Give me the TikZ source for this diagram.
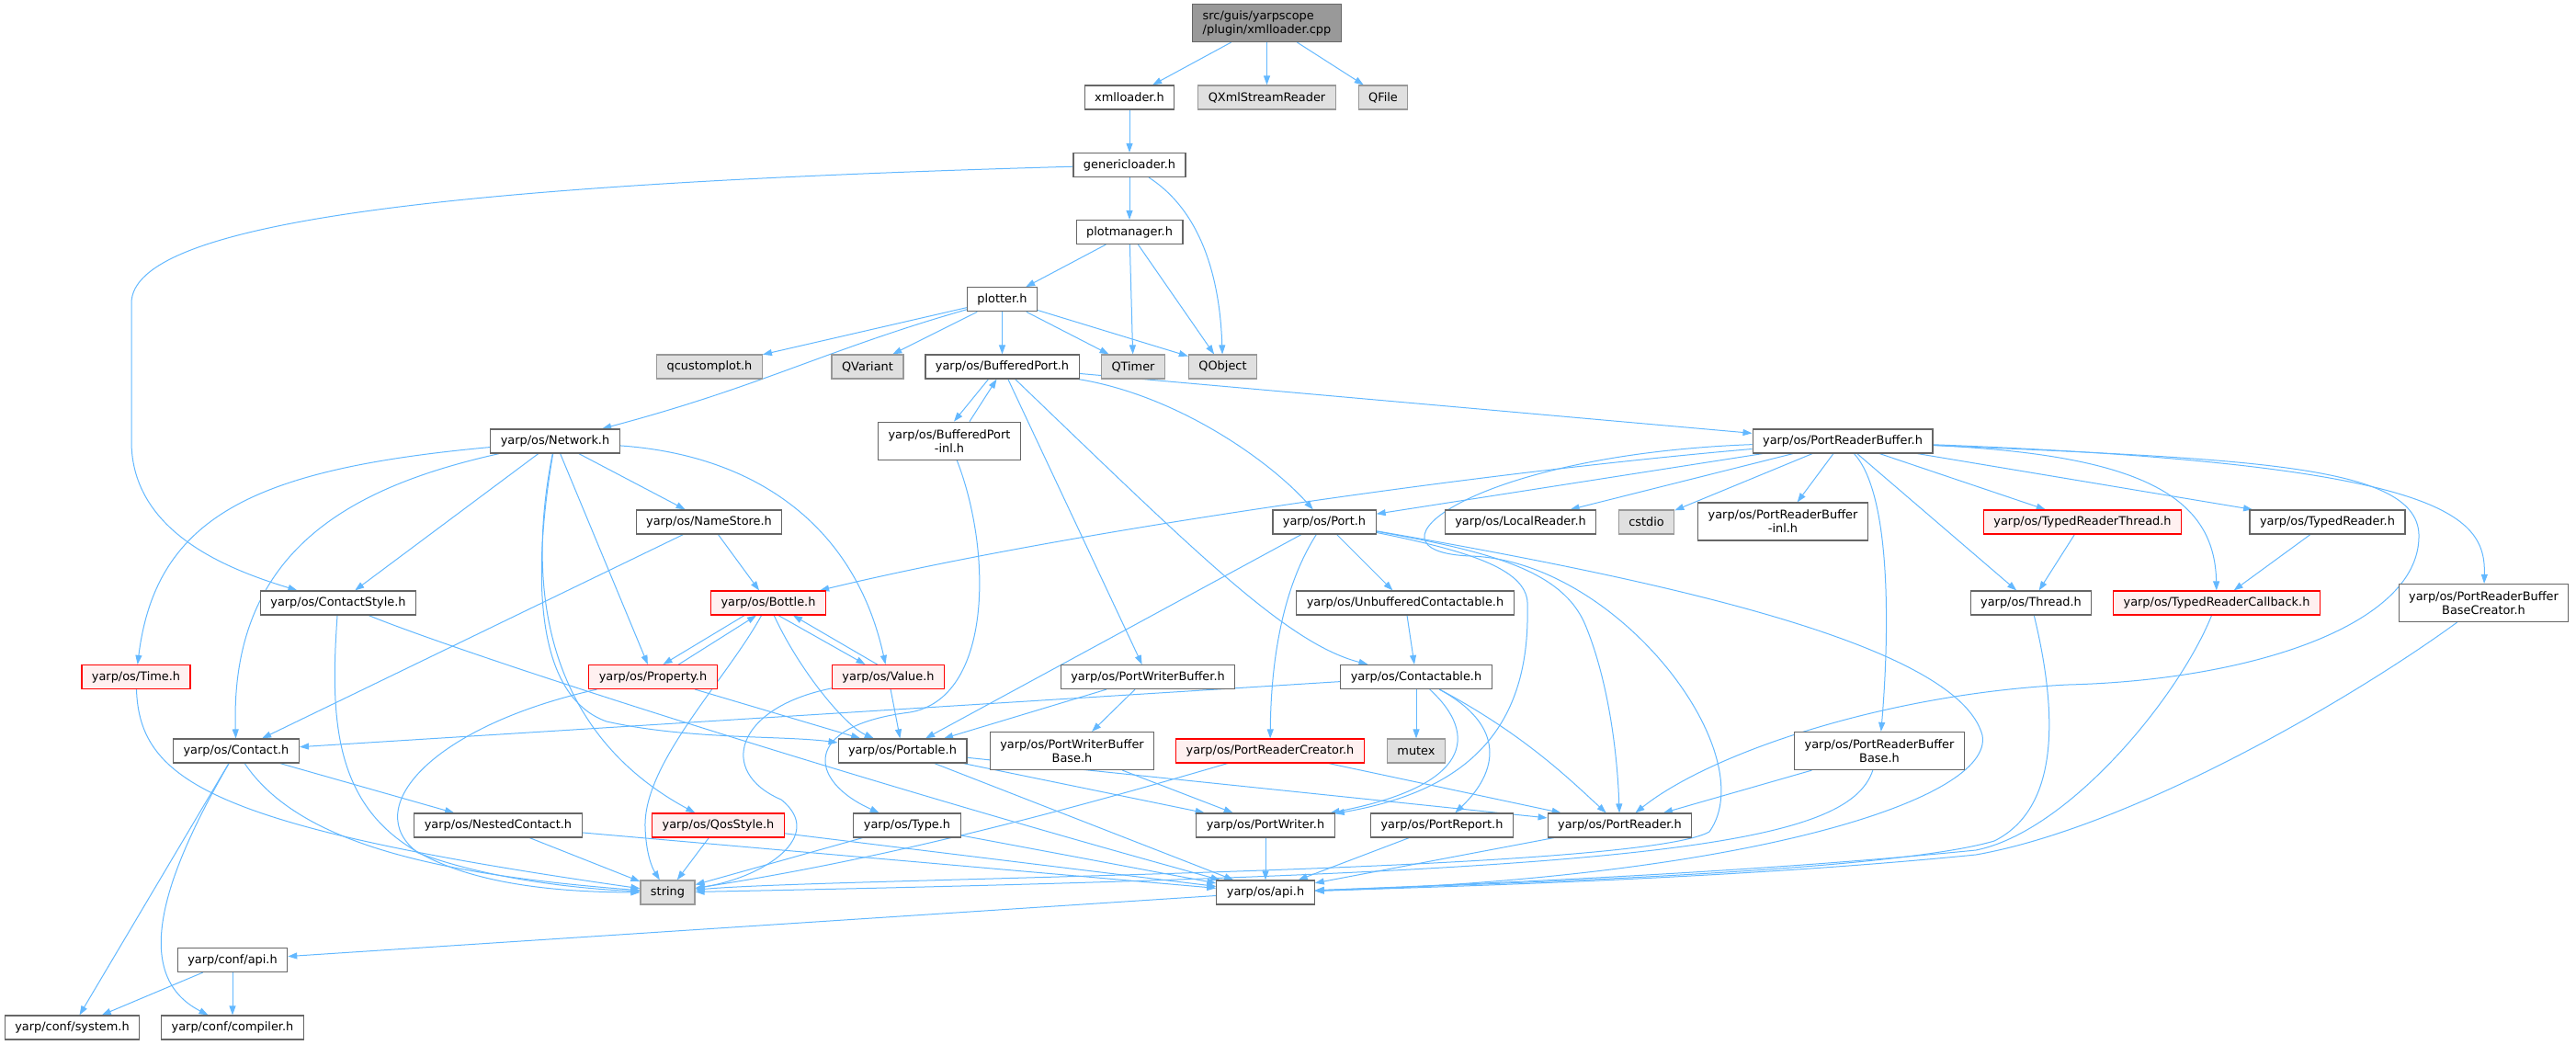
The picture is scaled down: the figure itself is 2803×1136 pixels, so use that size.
\documentclass[tikz,border=0pt]{standalone}
\usepackage{fontspec}
\setmainfont{DejaVu Sans}
\usetikzlibrary{arrows.meta,backgrounds}
\definecolor{edgeblue}{HTML}{63B8FF}
\definecolor{boxgray}{HTML}{666666}
\definecolor{extgray}{HTML}{999999}
\definecolor{extfill}{HTML}{E0E0E0}
\definecolor{truncfill}{HTML}{FFF0F0}
\tikzset{
    incl/.style={draw=boxgray, fill=white, line width=1.2pt, inner xsep=11pt, inner ysep=2pt,
        minimum height=26pt, font=\fontsize{12.9}{15}\selectfont},
    ext/.style={incl, draw=extgray, fill=extfill},
    trunc/.style={incl, draw=red, fill=truncfill},
    root/.style={incl, draw=boxgray, fill=extgray, align=left, minimum height=41pt},
    twoline/.style={align=center, minimum height=41pt},
    dep/.style={draw=edgeblue, line width=1pt, -{Triangle[length=10pt,width=7pt]}}
}

\begin{document}
\begin{tikzpicture}[x=1pt, y=-1pt]
    \useasboundingbox (0,0) rectangle (2803,1136);
    \node[root] (src) at (1378.5,25) {src/guis/yarpscope\\/plugin/xmlloader.cpp};
    \node[incl] (xml) at (1229,106) {xmlloader.h};
    \node[ext] (qxml) at (1378.5,106) {QXmlStreamReader};
    \node[ext] (qfile) at (1505,106) {QFile};
    \node[incl] (gen) at (1229,179.5) {genericloader.h};
    \node[incl] (pm) at (1229,252.5) {plotmanager.h};
    \node[incl] (plt) at (1090.5,325.8) {plotter.h};
    \node[ext] (qcp) at (772,399) {qcustomplot.h};
    \node[ext] (qvar) at (944,399) {QVariant};
    \node[incl] (bp) at (1090.5,399) {yarp/os/BufferedPort.h};
    \node[ext] (qtim) at (1233,399) {QTimer};
    \node[ext] (qobj) at (1330.5,399) {QObject};
    \node[incl, twoline] (bpinl) at (1033,479.7) {yarp/os/BufferedPort\\-inl.h};
    \node[incl] (net) at (604,480) {yarp/os/Network.h};
    \node[incl] (prb) at (2005,480) {yarp/os/PortReaderBuffer.h};
    \node[incl] (ns) at (771.5,568) {yarp/os/NameStore.h};
    \node[incl] (port) at (1441,568) {yarp/os/Port.h};
    \node[incl] (lr) at (1654.5,568) {yarp/os/LocalReader.h};
    \node[ext] (cstd) at (1791.5,568) {cstdio};
    \node[incl, twoline] (prbinl) at (1940,567.5) {yarp/os/PortReaderBuffer\\-inl.h};
    \node[trunc] (trt) at (2266,568) {yarp/os/TypedReaderThread.h};
    \node[incl] (tr) at (2532.5,568) {yarp/os/TypedReader.h};
    \node[incl] (cs) at (368,656) {yarp/os/ContactStyle.h};
    \node[trunc] (bot) at (836,656) {yarp/os/Bottle.h};
    \node[incl] (uc) at (1529,656) {yarp/os/UnbufferedContactable.h};
    \node[incl] (thr) at (2210,656) {yarp/os/Thread.h};
    \node[trunc] (trc) at (2412,656) {yarp/os/TypedReaderCallback.h};
    \node[incl, twoline] (prbbc) at (2702.5,656) {yarp/os/PortReaderBuffer\\BaseCreator.h};
    \node[trunc] (time) at (148,736.5) {yarp/os/Time.h};
    \node[trunc] (prop) at (710.5,736.5) {yarp/os/Property.h};
    \node[trunc] (val) at (966.5,736.5) {yarp/os/Value.h};
    \node[incl] (pwb) at (1249,736.5) {yarp/os/PortWriterBuffer.h};
    \node[incl] (ctb) at (1541,736.5) {yarp/os/Contactable.h};
    \node[incl] (con) at (257,817) {yarp/os/Contact.h};
    \node[incl] (ptb) at (982,817) {yarp/os/Portable.h};
    \node[incl, twoline] (pwbb) at (1166.5,817) {yarp/os/PortWriterBuffer\\Base.h};
    \node[trunc] (prc) at (1382,817) {yarp/os/PortReaderCreator.h};
    \node[ext] (mtx) at (1541,817) {mutex};
    \node[incl, twoline] (prbb) at (2045,817) {yarp/os/PortReaderBuffer\\Base.h};
    \node[incl] (nc) at (542,898) {yarp/os/NestedContact.h};
    \node[trunc] (qos) at (781.5,898) {yarp/os/QosStyle.h};
    \node[incl] (typ) at (987,898) {yarp/os/Type.h};
    \node[incl] (pw) at (1377,898) {yarp/os/PortWriter.h};
    \node[incl] (prep) at (1569,898) {yarp/os/PortReport.h};
    \node[incl] (pr) at (1762.5,898) {yarp/os/PortReader.h};
    \node[ext] (str) at (726.5,971) {string};
    \node[incl] (api) at (1377,971) {yarp/os/api.h};
    \node[incl] (capi) at (253,1044.5) {yarp/conf/api.h};
    \node[incl] (csys) at (78.5,1118) {yarp/conf/system.h};
    \node[incl] (ccomp) at (253,1118) {yarp/conf/compiler.h};

    \begin{pgfonlayer}{background}
    \draw[dep] (src) -- (xml);
    \draw[dep] (src) -- (qxml);
    \draw[dep] (src) -- (qfile);
    \draw[dep] (xml) -- (gen);
    \draw[dep] (gen) .. controls (500,200) and (143,240) .. (143,330) -- (143,480)
        .. controls (143,580) and (250,620) .. (cs);
    \draw[dep] (gen) -- (pm);
    \draw[dep] (gen) .. controls (1315,235) and (1328,320) .. (qobj);
    \draw[dep] (pm) -- (plt);
    \draw[dep] (pm) -- (qtim);
    \draw[dep] (pm) -- (qobj);
    \draw[dep] (plt) -- (qcp);
    \draw[dep] (plt) .. controls (900,380) and (830,420) .. (net);
    \draw[dep] (plt) -- (qvar);
    \draw[dep] (plt) -- (bp);
    \draw[dep] (plt) -- (qtim);
    \draw[dep] (plt) -- (qobj);
    \draw[dep] ([xshift=-15pt]bp.south) -- ([xshift=5pt]bpinl.north);
    \draw[dep] ([xshift=22pt]bpinl.north) -- ([xshift=-6pt]bp.south);
    \draw[dep] (bp) -- (prb);
    \draw[dep] (bp) .. controls (1280,430) and (1380,500) .. (port);
    \draw[dep] (bp) -- (pwb);
    \draw[dep] (bp) .. controls (1300,600) and (1400,700) .. (ctb);
    \draw[dep] (bpinl) .. controls (1080,600) and (1080,760) .. (990,775)
        .. controls (870,790) and (880,850) .. (typ);
    \draw[dep] (net) .. controls (280,510) and (170,560) .. (time);
    \draw[dep] (net) .. controls (380,530) and (250,600) .. (con);
    \draw[dep] (net) -- (cs);
    \draw[dep] (net) -- (ns);
    \draw[dep] (net) -- (prop);
    \draw[dep] (net) .. controls (820,495) and (930,570) .. (val);
    \draw[dep] (net) .. controls (570,650) and (600,800) .. (qos);
    \draw[dep] (net) .. controls (575,650) and (590,760) .. (660,785)
        .. controls (750,805) and (850,800) .. (ptb);
    \draw[dep] (ns) -- (bot);
    \draw[dep] (ns) -- (con);
    \draw[dep] (prb) .. controls (1600,515) and (1150,580) .. (bot);
    \draw[dep] (prb) -- (port);
    \draw[dep] (prb) .. controls (1600,495) and (1470,600) .. (1600,605)
        .. controls (1760,610) and (1920,820) .. (1860,905)
        .. controls (1780,950) and (900,955) .. (str);
    \draw[dep] (prb) -- (lr);
    \draw[dep] (prb) -- (cstd);
    \draw[dep] (prb) -- (prbinl);
    \draw[dep] (prb) .. controls (2060,540) and (2055,700) .. (prbb);
    \draw[dep] (prb) -- (thr);
    \draw[dep] (prb) -- (trt);
    \draw[dep] (prb) -- (tr);
    \draw[dep] (prb) .. controls (2330,495) and (2410,540) .. (trc);
    \draw[dep] (prb) .. controls (2660,505) and (2705,560) .. (prbbc);
    \draw[dep] (prb) .. controls (2450,500) and (2635,505) .. (2632,585)
        .. controls (2630,680) and (2450,740) .. (2250,745)
        .. controls (2050,755) and (1860,820) .. (pr);
    \draw[dep] (trt) -- (thr);
    \draw[dep] (tr) -- (trc);
    \draw[dep] (port) -- (ptb);
    \draw[dep] (port) .. controls (1395,640) and (1383,720) .. (prc);
    \draw[dep] (port) -- (uc);
    \draw[dep] (port) .. controls (1600,600) and (1665,620) .. (1662,660)
        .. controls (1665,790) and (1600,860) .. (pw);
    \draw[dep] (port) .. controls (1620,600) and (1700,620) .. (1725,680)
        .. controls (1750,740) and (1760,820) .. (pr);
    \draw[dep] (port) .. controls (1800,630) and (2130,700) .. (2157,800)
        .. controls (2170,870) and (1900,955) .. (api);
    \draw[dep] (uc) -- (ctb);
    \draw[dep] (ctb) -- (con);
    \draw[dep] (ctb) -- (mtx);
    \draw[dep] (ctb) .. controls (1610,800) and (1600,855) .. (pw);
    \draw[dep] (ctb) .. controls (1640,790) and (1630,840) .. (prep);
    \draw[dep] (ctb) .. controls (1660,800) and (1710,850) .. (pr);
    \draw[dep] ([xshift=-26pt]bot.south) -- ([xshift=11pt]prop.north);
    \draw[dep] ([xshift=28pt]prop.north) -- ([xshift=-13pt]bot.south);
    \draw[dep] ([xshift=11pt]bot.south) -- ([xshift=-25pt]val.north);
    \draw[dep] ([xshift=-12pt]val.north) -- ([xshift=27pt]bot.south);
    \draw[dep] (bot) .. controls (870,730) and (920,790) .. (ptb);
    \draw[dep] (bot) .. controls (790,740) and (700,830) .. (702,900)
        .. controls (703,930) and (710,945) .. (str);
    \draw[dep] (prop) -- (ptb);
    \draw[dep] (prop) .. controls (470,790) and (390,880) .. (455,928)
        .. controls (540,960) and (650,968) .. (str);
    \draw[dep] (val) -- (ptb);
    \draw[dep] (val) .. controls (800,770) and (780,840) .. (850,870)
        .. controls (900,910) and (830,955) .. (str);
    \draw[dep] (pwb) -- (ptb);
    \draw[dep] (pwb) -- (pwbb);
    \draw[dep] (pwbb) -- (pw);
    \draw[dep] (ptb) -- (api);
    \draw[dep] (ptb) -- (pw);
    \draw[dep] (ptb) -- (pr);
    \draw[dep] (prc) -- (pr);
    \draw[dep] (prc) .. controls (1150,885) and (960,935) .. (str);
    \draw[dep] (prbb) -- (pr);
    \draw[dep] (prbb) .. controls (2010,920) and (1800,950) .. (str);
    \draw[dep] (thr) .. controls (2240,780) and (2240,880) .. (2170,915)
        .. controls (2050,950) and (1600,962) .. (api);
    \draw[dep] (trc) .. controls (2370,760) and (2250,905) .. (2150,925)
        .. controls (1900,950) and (1600,962) .. (api);
    \draw[dep] (prbbc) .. controls (2560,760) and (2320,900) .. (2150,930)
        .. controls (1900,955) and (1600,964) .. (api);
    \draw[dep] (time) .. controls (152,850) and (230,900) .. (str);
    \draw[dep] (cs) .. controls (355,840) and (370,970) .. (str);
    \draw[dep] (cs) .. controls (500,710) and (900,840) .. (api);
    \draw[dep] (con) -- (csys);
    \draw[dep] (con) .. controls (180,950) and (140,1060) .. (ccomp);
    \draw[dep] (con) .. controls (320,910) and (450,950) .. (str);
    \draw[dep] (con) -- (nc);
    \draw[dep] (nc) -- (str);
    \draw[dep] (nc) -- (api);
    \draw[dep] (qos) -- (str);
    \draw[dep] (qos) -- (api);
    \draw[dep] (typ) -- (str);
    \draw[dep] (typ) -- (api);
    \draw[dep] (pw) -- (api);
    \draw[dep] (prep) -- (api);
    \draw[dep] (pr) -- (api);
    \draw[dep] (api) -- (capi);
    \draw[dep] (capi) -- (csys);
    \draw[dep] (capi) -- (ccomp);
    \end{pgfonlayer}
\end{tikzpicture}
\end{document}
